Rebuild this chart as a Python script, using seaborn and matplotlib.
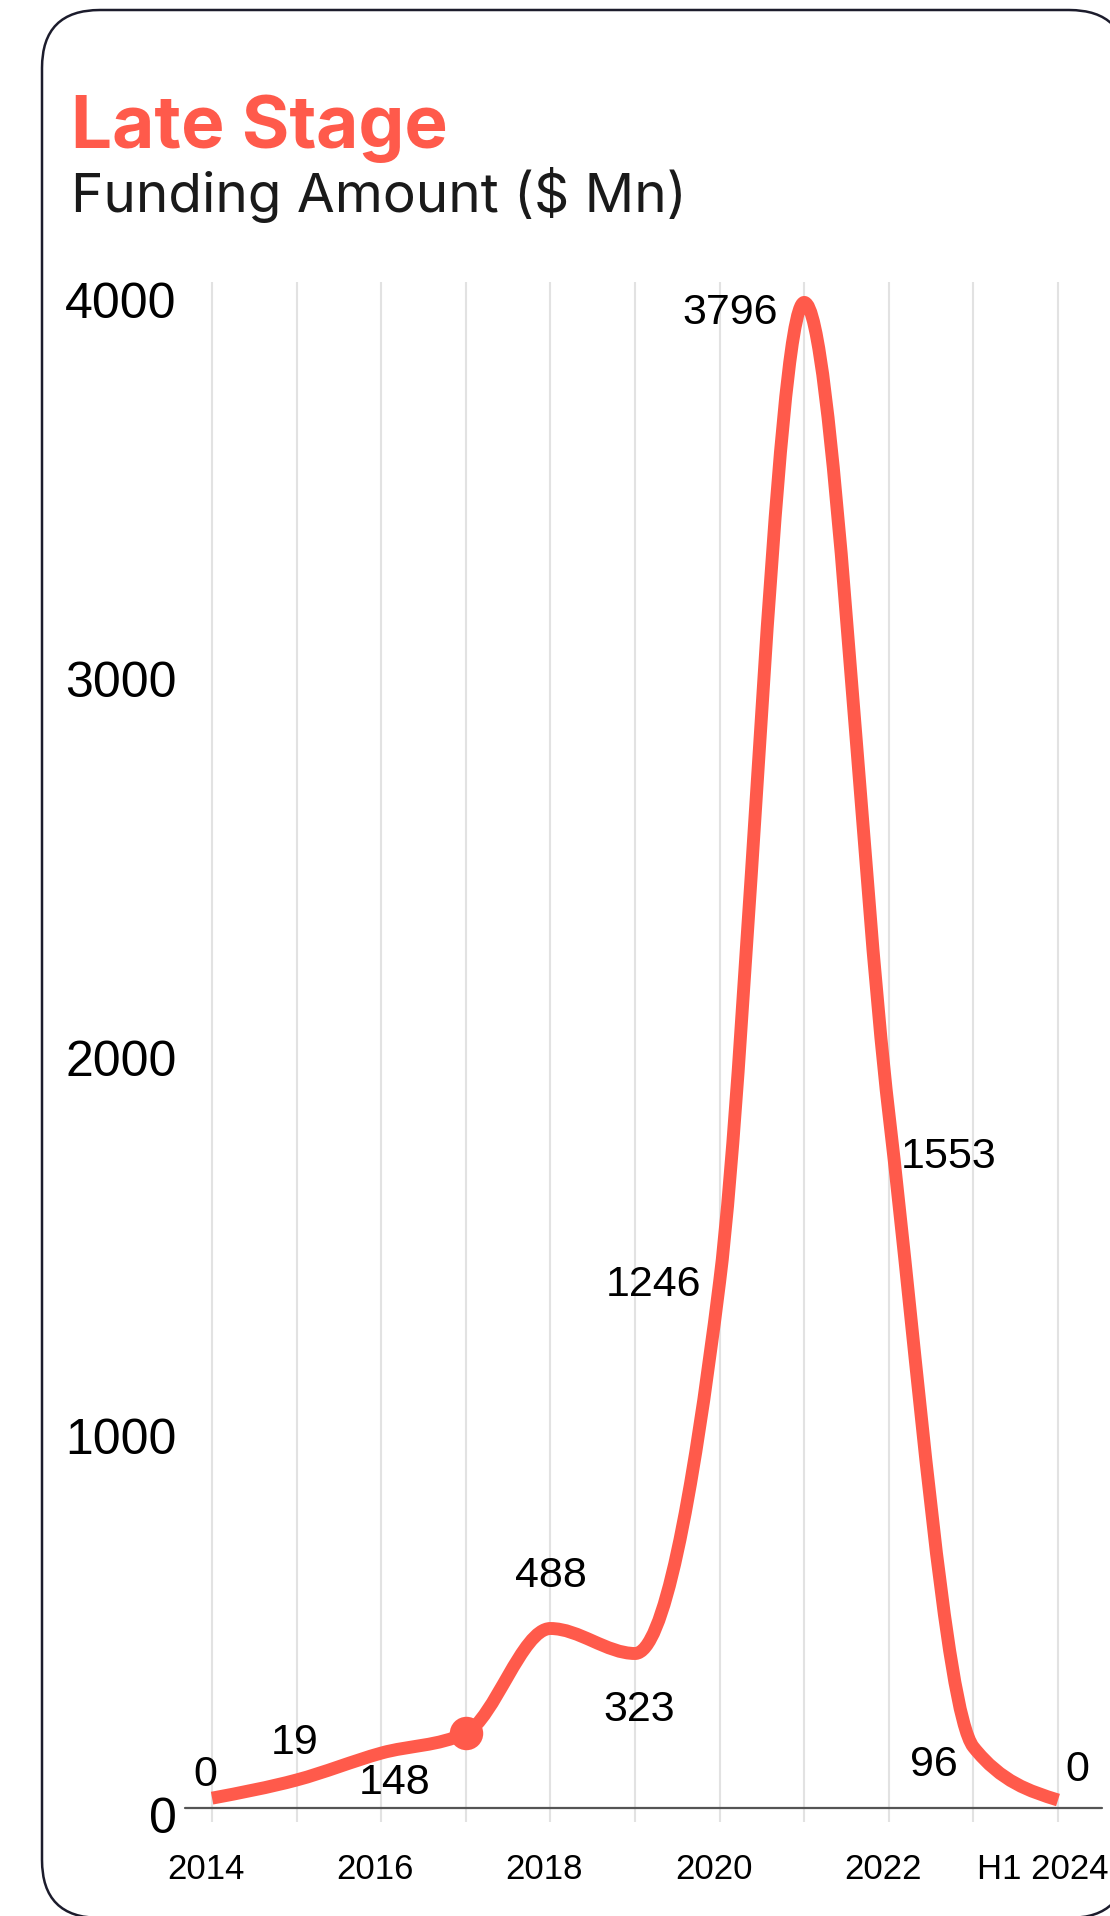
"""Late stage funding amount - smooth line with value labels."""
import numpy as np
import pandas as pd

import seaborn as sns
import matplotlib.pyplot as plt
from matplotlib.path import Path
from matplotlib.patches import PathPatch, FancyBboxPatch
from matplotlib.transforms import ScaledTranslation

sns.set_style("white")
plt.rcParams["font.family"] = ["Liberation Sans", "DejaVu Sans"]


years = ["2014", "2015", "2016", "2017", "2018", "2019",
         "2020", "2021", "2022", "2023", "H1 2024"]
# values printed on the chart (2017 label hidden under the hover dot)
funding_labels = ["0", "19", "148", "", "488", "323",
                  "1246", "3796", "1553", "96", "0"]
# where the drawn curve passes each year
curve_vals = [26, 74, 145, 198, 474, 408, 1390, 3976, 1835, 161, 21]
highlight_year = "2017"
ytick_vals = [0, 1000, 2000, 3000, 4000]

CORAL = "#ff5a4b"
W, H, DPI = 1110, 1916, 100

df = pd.DataFrame({"year": years, "value": curve_vals, "label": funding_labels})
df["pos"] = np.arange(len(df))


def monotone_slopes(y):
    # same tangents as a monotone-x curve (d3 style), unit spacing
    y = np.asarray(y, float)
    s = np.diff(y)
    m = np.zeros_like(y)
    for i in range(1, len(y) - 1):
        s0, s1 = s[i - 1], s[i]
        p = (s0 + s1) / 2
        m[i] = (np.sign(s0) + np.sign(s1)) * min(abs(s0), abs(s1), 0.5 * abs(p))
    m[0] = (3 * s[0] - m[1]) / 2
    m[-1] = (3 * s[-1] - m[-2]) / 2
    return m


fig = plt.figure(figsize=(W / DPI, H / DPI), dpi=DPI)

# rounded card behind everything (runs off the right and bottom edges)
bg = fig.add_axes([0, 0, 1, 1], zorder=-1)
bg.set_xlim(0, W)
bg.set_ylim(H, 0)
bg.axis("off")
bg.add_patch(FancyBboxPatch((42, 10), 1085, 1908,
    boxstyle="round,pad=0,rounding_size=58",
    fc="white", ec="#1c1c2c", lw=1.8, clip_on=False))

ax = fig.add_axes([185 / W, (H - 1822) / H, 917 / W, 1540 / H])
ax.patch.set_alpha(0)
ax.set_xlim(-0.32, 10.52)
ax.set_ylim(-37, 4030)

# smooth curve through the points
x = df["pos"].values.astype(float)
y = df["value"].values.astype(float)
m = monotone_slopes(y)
verts = [(x[0], y[0])]
codes = [Path.MOVETO]
for i in range(len(x) - 1):
    verts += [(x[i] + 1 / 3, y[i] + m[i] / 3),
              (x[i + 1] - 1 / 3, y[i + 1] - m[i + 1] / 3),
              (x[i + 1], y[i + 1])]
    codes += [Path.CURVE4] * 3
ax.add_patch(PathPatch(Path(verts, codes), fill=False, ec=CORAL,
    lw=9.3, capstyle="butt", joinstyle="round", zorder=4))

sns.scatterplot(data=df[df["year"] == highlight_year], x="pos", y="value",
    s=580, color=CORAL, linewidth=0, zorder=5, ax=ax, legend=False)

ax.axhline(0, color="#555555", lw=1.6, zorder=3, clip_on=False)

# label offsets in pixels (dx right, dy down)
LABEL_OFFSETS = [(-7, -23), (-2, -37), (13, 30), (0, 0), (0, -53), (4, 57),
                 (-66, 3), (-74, 11), (60, 44), (-40, 18), (19, -30)]
for (_, row), (dx, dy) in zip(df.iterrows(), LABEL_OFFSETS):
    if not row["label"]:
        continue
    ax.annotate(row["label"], xy=(row["pos"], row["value"]),
        xytext=(dx * 0.72, -dy * 0.72), textcoords="offset points",
        ha="center", va="center", fontsize=31, color="black", zorder=6)

# axes cosmetics
for sp in ax.spines.values():
    sp.set_visible(False)
ax.set_xticks(df["pos"])
ax.set_xticklabels([yr if i % 2 == 0 else "" for i, yr in enumerate(years)])
ax.set_yticks(ytick_vals)
ax.set_yticklabels([str(v) for v in ytick_vals])
ax.grid(axis="x", color="#e2e2e2", lw=1.5)
ax.grid(axis="y", visible=False)
ax.tick_params(axis="x", length=0, pad=22, labelsize=25, colors="black")
ax.tick_params(axis="y", length=0, pad=6, labelsize=36, colors="black")
ax.set_xlabel("")
ax.set_ylabel("")

for lab in ax.get_yticklabels():
    lab.set_transform(lab.get_transform() + ScaledTranslation(0, -7 / DPI, fig.dpi_scale_trans))
xlabs = ax.get_xticklabels()
for i, lab in enumerate(xlabs):
    shift = -15 if i == len(xlabs) - 1 else -6
    lab.set_transform(lab.get_transform() + ScaledTranslation(shift / DPI, 0, fig.dpi_scale_trans))

# titles
fig.text(71 / W, 1 - 148 / H, "Late Stage", fontsize=52.5, fontweight="bold",
    color=CORAL, family=["Inter", "DejaVu Sans"], va="baseline")
fig.text(71 / W, 1 - 212 / H, "Funding Amount ($ Mn)", fontsize=39.5,
    fontweight="normal", color="#1a1a1a", family=["Inter", "DejaVu Sans"],
    va="baseline")

fig.savefig("out.png", dpi=DPI)
plt.close()
